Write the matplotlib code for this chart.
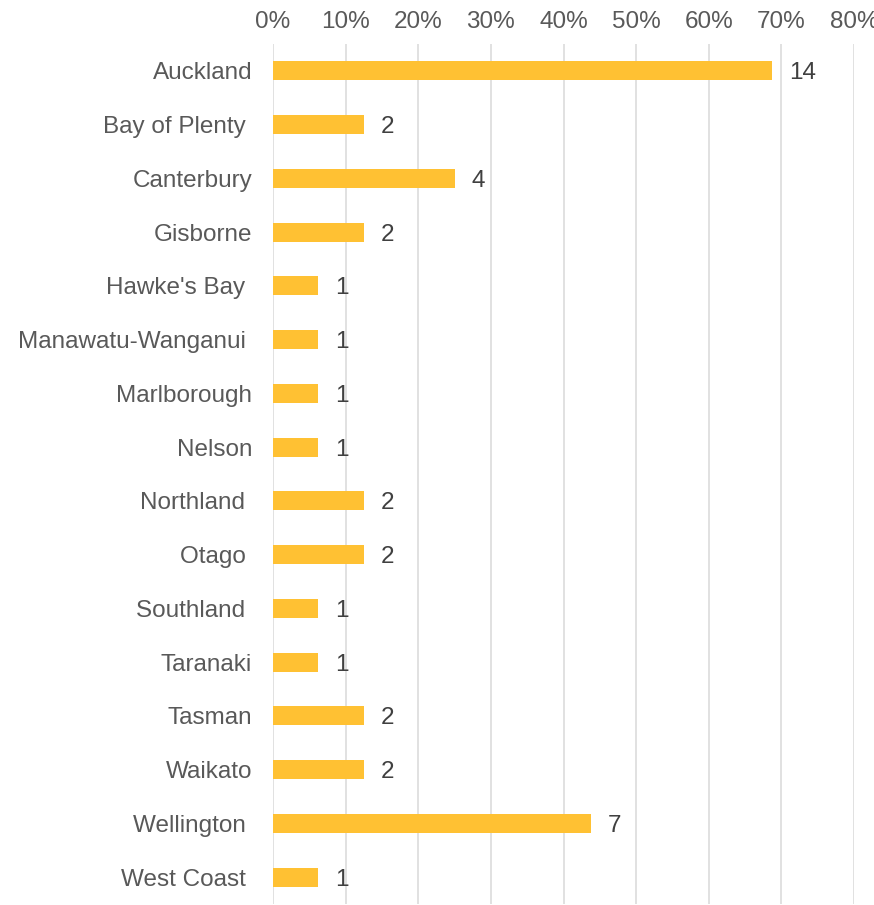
import matplotlib
matplotlib.use("Agg")
import matplotlib.pyplot as plt
from matplotlib.ticker import PercentFormatter

# regions as shown, top to bottom (trailing spaces kept as in the source labels)
regions = ["Auckland", "Bay of Plenty ", "Canterbury", "Gisborne", "Hawke's Bay ",
           "Manawatu-Wanganui ", "Marlborough", "Nelson", "Northland ", "Otago ",
           "Southland ", "Taranaki", "Tasman", "Waikato", "Wellington ", "West Coast "]
shares = [68.75, 12.5, 25.0, 12.5, 6.25, 6.25, 6.25, 6.25, 12.5, 12.5,
          6.25, 6.25, 12.5, 12.5, 43.75, 6.25]
counts = [14, 2, 4, 2, 1, 1, 1, 1, 2, 2, 1, 1, 2, 2, 7, 1]
ticks = [0, 10, 20, 30, 40, 50, 60, 70, 80]

plt.rcParams['font.family'] = ['Liberation Sans', 'DejaVu Sans']

fig = plt.figure(figsize=(8.74, 9.05), dpi=100)
ax = fig.add_axes([273 / 874, 1 / 905, 581 / 874, 860 / 905])

y = list(range(len(regions)))
bars = ax.barh(y, shares, height=0.35, color="#FFC133", zorder=3)

for b, c in zip(bars, counts):
    ax.annotate(str(c), (b.get_width(), b.get_y() + b.get_height() / 2),
                xytext=(12, 0), textcoords="offset points",
                va="center_baseline", ha="left", fontsize=17.5, color="#404040")

ax.set_ylim(len(regions) - 0.5, -0.5)
ax.set_xlim(0, 80)
ax.set_yticks(y)
ax.set_yticklabels(regions, va="center_baseline")
ax.set_xticks(ticks)
ax.xaxis.set_major_formatter(PercentFormatter(decimals=0))
ax.xaxis.tick_top()
ax.tick_params(axis="x", length=0, pad=8, labelsize=17.5, colors="#595959")
ax.tick_params(axis="y", length=0, pad=15, labelsize=17.5, colors="#595959")
ax.grid(axis="x", color="#D9D9D9", linewidth=1.1, zorder=0)
for s in ax.spines.values():
    s.set_visible(False)

fig.savefig("out.png", dpi=100)
